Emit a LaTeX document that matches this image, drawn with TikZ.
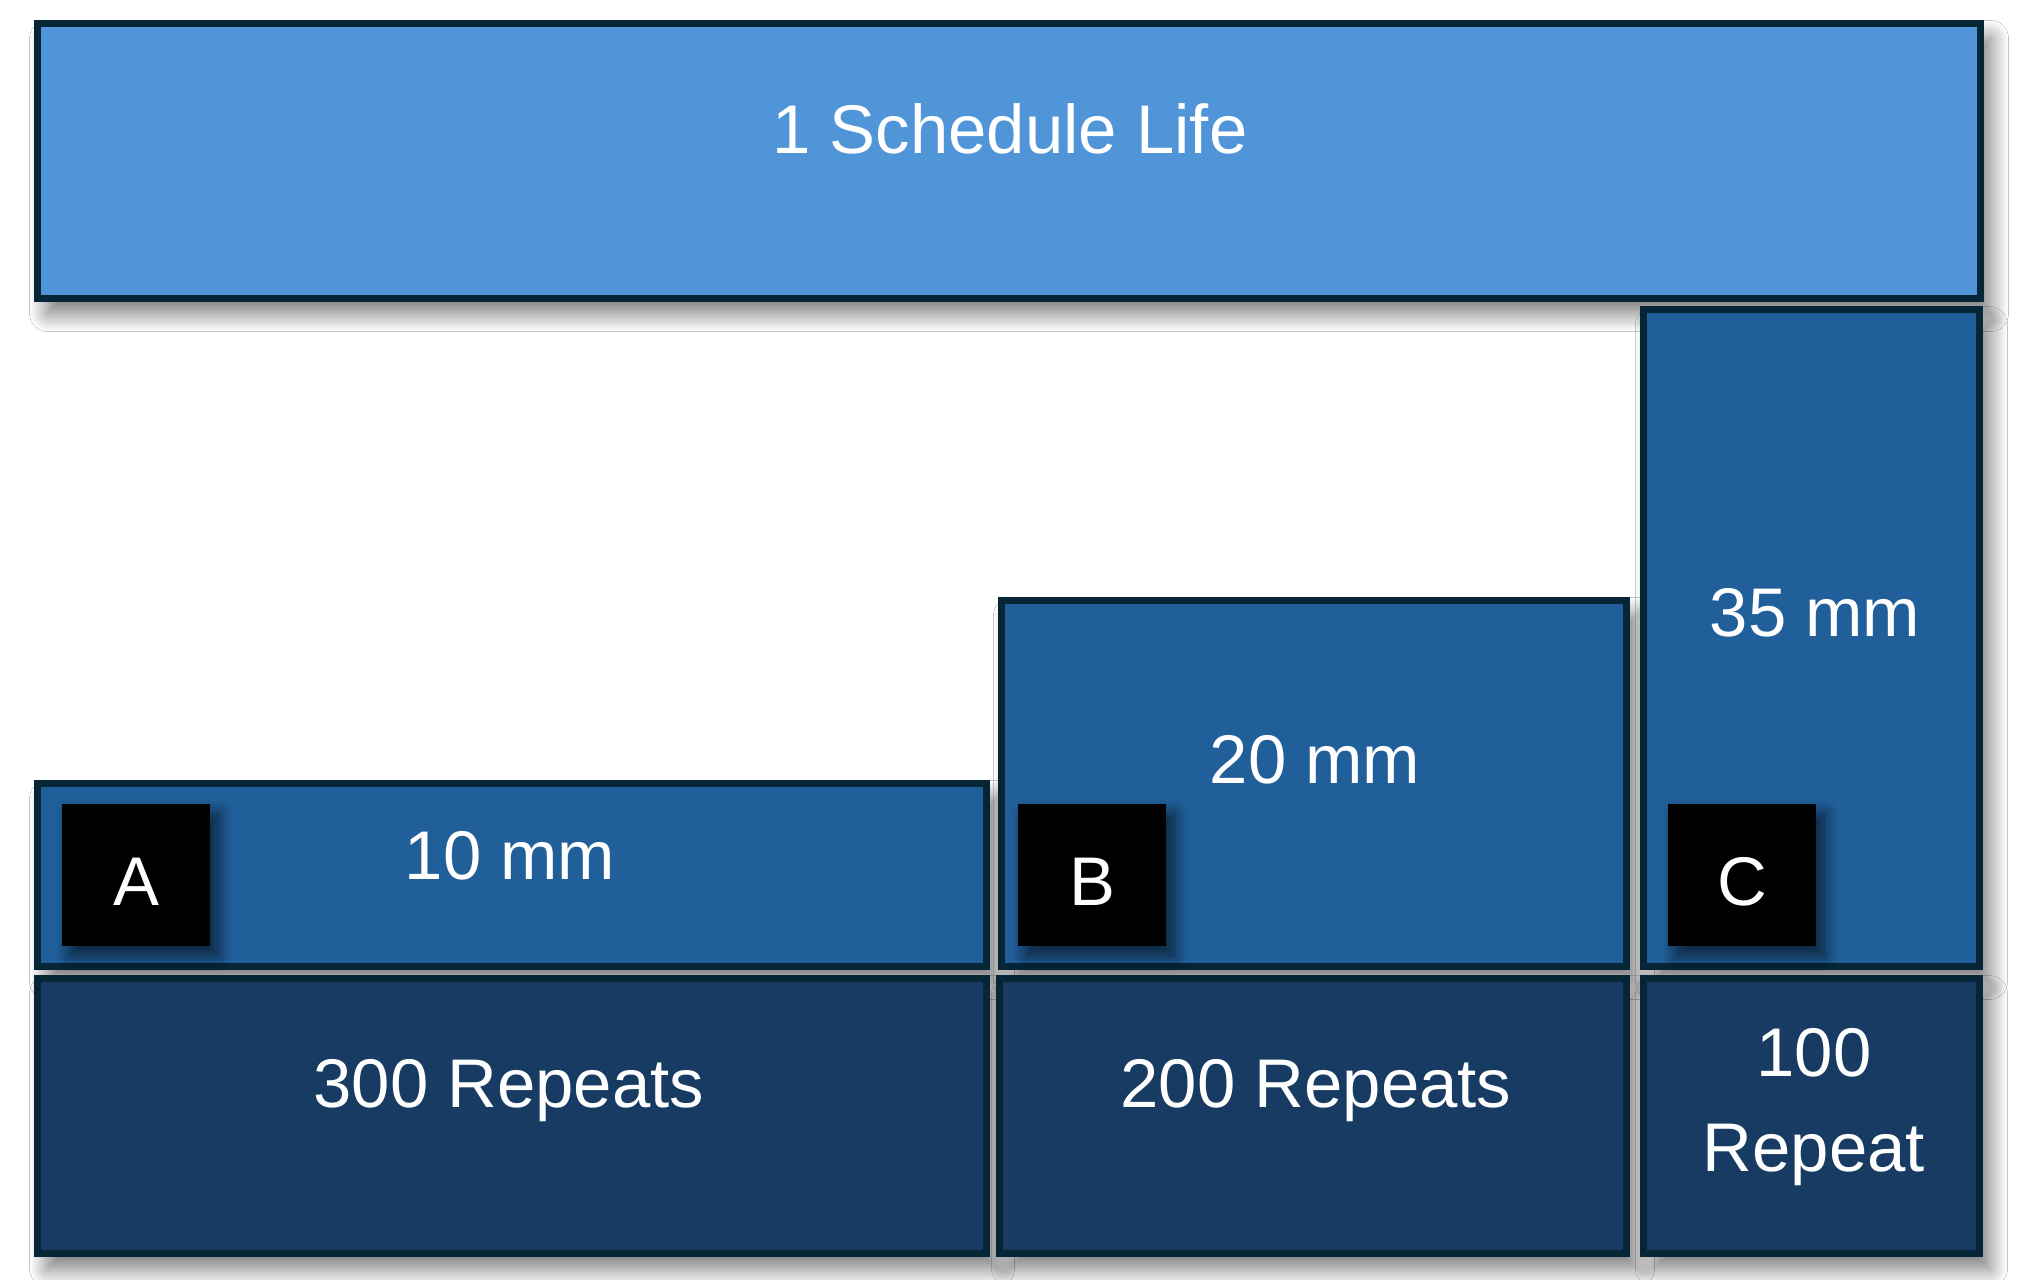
\documentclass[tikz,border=0pt]{standalone}
\usepackage{fontspec}
\setmainfont{Liberation Sans}
\usetikzlibrary{shadows.blur}
\definecolor{edge}{HTML}{062537}
\definecolor{lifeblue}{HTML}{5095D8}
\definecolor{sizeblue}{HTML}{215F9B}
\definecolor{repblue}{HTML}{173B62}
\tikzset{
  blk/.style={draw=edge, line width=0.07cm, inner sep=0pt,
    blur shadow={shadow xshift=0.1cm, shadow yshift=-0.15cm, shadow blur radius=0.18cm,
      shadow blur extra rounding=0pt, shadow blur steps=24, shadow opacity=55}},
  tag/.style={fill=black, text=white, inner sep=0pt, minimum width=1.48cm, minimum height=1.42cm,
    text height=0.61cm, text depth=0pt, font=\fontsize{19.6}{27}\selectfont,
    blur shadow={shadow xshift=0.08cm, shadow yshift=-0.1cm, shadow blur radius=0.14cm,
      shadow blur extra rounding=0pt, shadow blur steps=24, shadow opacity=65}},
  lbl/.style={text=white, inner sep=0pt, align=center, font=\fontsize{19.6}{27}\selectfont}
}
\begin{document}
\begin{tikzpicture}
    \path[use as bounding box, fill=white] (0,0) rectangle (20.37,-12.80);
    \node[blk, fill=lifeblue, minimum width=19.43cm, minimum height=2.75cm] (life) at (10.09,-1.61) {};
    % upper row, one box per size
    \node[blk, fill=sizeblue, minimum width=9.49cm, minimum height=1.83cm] (sizeA) at (5.12,-8.75) {};
    \node[blk, fill=sizeblue, minimum width=6.25cm, minimum height=3.66cm] (sizeB) at (13.14,-7.835) {};
    \node[blk, fill=sizeblue, minimum width=3.36cm, minimum height=6.57cm] (sizeC) at (18.115,-6.38) {};
    % lower row
    \node[blk, fill=repblue, minimum width=9.49cm, minimum height=2.75cm] (repA) at (5.12,-11.16) {};
    \node[blk, fill=repblue, minimum width=6.27cm, minimum height=2.75cm] (repB) at (13.13,-11.16) {};
    \node[blk, fill=repblue, minimum width=3.36cm, minimum height=2.75cm] (repC) at (18.115,-11.16) {};
    \foreach \t/\x in {A/1.36,B/10.92,C/17.42} \node[tag] (tag\t) at (\x,-8.75) {\t};
    \node[lbl, anchor=base] (lifetxt) at (10.10,-1.54) {1 Schedule Life};
    \node[lbl, anchor=base] (sizeAtxt) at (5.10,-8.80) {10 mm};
    \node[lbl, anchor=base] (sizeBtxt) at (13.15,-7.84) {20 mm};
    \node[lbl, anchor=base] (sizeCtxt) at (18.15,-6.37) {35 mm};
    \node[lbl, anchor=base] (repAtxt) at (5.09,-11.08) {300 Repeats};
    \node[lbl, anchor=base] (repBtxt) at (13.16,-11.08) {200 Repeats};
    \node[lbl] (repCtxt) at (18.14,-11.07) {100\\Repeat};
\end{tikzpicture}
\end{document}
